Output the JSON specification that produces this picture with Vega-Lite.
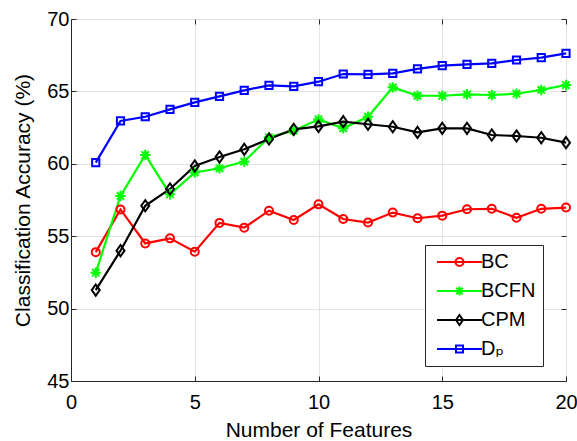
{
  "$schema": "https://vega.github.io/schema/vega-lite/v6.json",
  "width": 495,
  "height": 362,
  "autosize": "none",
  "padding": {"left": 71, "top": 19, "right": 11, "bottom": 60},
  "background": "white",
  "config": {
    "view": {"stroke": "#262626", "strokeWidth": 1},
    "font": "Liberation Sans"
  },
  "data": {
    "values": [
      {"x": 1, "v": 53.9, "s": "BC"}, {"x": 2, "v": 56.85, "s": "BC"}, {"x": 3, "v": 54.5, "s": "BC"}, {"x": 4, "v": 54.85, "s": "BC"}, {"x": 5, "v": 53.93, "s": "BC"},
      {"x": 6, "v": 55.92, "s": "BC"}, {"x": 7, "v": 55.59, "s": "BC"}, {"x": 8, "v": 56.76, "s": "BC"}, {"x": 9, "v": 56.12, "s": "BC"}, {"x": 10, "v": 57.2, "s": "BC"},
      {"x": 11, "v": 56.19, "s": "BC"}, {"x": 12, "v": 55.94, "s": "BC"}, {"x": 13, "v": 56.63, "s": "BC"}, {"x": 14, "v": 56.24, "s": "BC"}, {"x": 15, "v": 56.42, "s": "BC"},
      {"x": 16, "v": 56.86, "s": "BC"}, {"x": 17, "v": 56.89, "s": "BC"}, {"x": 18, "v": 56.27, "s": "BC"}, {"x": 19, "v": 56.89, "s": "BC"}, {"x": 20, "v": 56.98, "s": "BC"},

      {"x": 1, "v": 52.48, "s": "BCFN"}, {"x": 2, "v": 57.78, "s": "BCFN"}, {"x": 3, "v": 60.61, "s": "BCFN"}, {"x": 4, "v": 57.9, "s": "BCFN"}, {"x": 5, "v": 59.4, "s": "BCFN"},
      {"x": 6, "v": 59.69, "s": "BCFN"}, {"x": 7, "v": 60.15, "s": "BCFN"}, {"x": 8, "v": 61.83, "s": "BCFN"}, {"x": 9, "v": 62.29, "s": "BCFN"}, {"x": 10, "v": 63.07, "s": "BCFN"},
      {"x": 11, "v": 62.45, "s": "BCFN"}, {"x": 12, "v": 63.25, "s": "BCFN"}, {"x": 13, "v": 65.28, "s": "BCFN"}, {"x": 14, "v": 64.7, "s": "BCFN"}, {"x": 15, "v": 64.7, "s": "BCFN"},
      {"x": 16, "v": 64.8, "s": "BCFN"}, {"x": 17, "v": 64.75, "s": "BCFN"}, {"x": 18, "v": 64.84, "s": "BCFN"}, {"x": 19, "v": 65.1, "s": "BCFN"}, {"x": 20, "v": 65.44, "s": "BCFN"},

      {"x": 1, "v": 51.28, "s": "CPM"}, {"x": 2, "v": 54.0, "s": "CPM"}, {"x": 3, "v": 57.1, "s": "CPM"}, {"x": 4, "v": 58.26, "s": "CPM"}, {"x": 5, "v": 59.85, "s": "CPM"},
      {"x": 6, "v": 60.47, "s": "CPM"}, {"x": 7, "v": 61.0, "s": "CPM"}, {"x": 8, "v": 61.71, "s": "CPM"}, {"x": 9, "v": 62.38, "s": "CPM"}, {"x": 10, "v": 62.58, "s": "CPM"},
      {"x": 11, "v": 62.91, "s": "CPM"}, {"x": 12, "v": 62.73, "s": "CPM"}, {"x": 13, "v": 62.56, "s": "CPM"}, {"x": 14, "v": 62.17, "s": "CPM"}, {"x": 15, "v": 62.45, "s": "CPM"},
      {"x": 16, "v": 62.45, "s": "CPM"}, {"x": 17, "v": 61.99, "s": "CPM"}, {"x": 18, "v": 61.92, "s": "CPM"}, {"x": 19, "v": 61.8, "s": "CPM"}, {"x": 20, "v": 61.46, "s": "CPM"},

      {"x": 1, "v": 60.08, "s": "Dₚ"}, {"x": 2, "v": 62.96, "s": "Dₚ"}, {"x": 3, "v": 63.25, "s": "Dₚ"}, {"x": 4, "v": 63.76, "s": "Dₚ"}, {"x": 5, "v": 64.24, "s": "Dₚ"},
      {"x": 6, "v": 64.66, "s": "Dₚ"}, {"x": 7, "v": 65.07, "s": "Dₚ"}, {"x": 8, "v": 65.42, "s": "Dₚ"}, {"x": 9, "v": 65.35, "s": "Dₚ"}, {"x": 10, "v": 65.67, "s": "Dₚ"},
      {"x": 11, "v": 66.2, "s": "Dₚ"}, {"x": 12, "v": 66.17, "s": "Dₚ"}, {"x": 13, "v": 66.25, "s": "Dₚ"}, {"x": 14, "v": 66.55, "s": "Dₚ"}, {"x": 15, "v": 66.78, "s": "Dₚ"},
      {"x": 16, "v": 66.87, "s": "Dₚ"}, {"x": 17, "v": 66.94, "s": "Dₚ"}, {"x": 18, "v": 67.17, "s": "Dₚ"}, {"x": 19, "v": 67.33, "s": "Dₚ"}, {"x": 20, "v": 67.63, "s": "Dₚ"}
    ]
  },
  "layer": [
    {
      "mark": {"type": "line", "strokeWidth": 2.2},
      "encoding": {
        "x": {
          "field": "x", "type": "quantitative",
          "scale": {"domain": [0, 20], "nice": false, "zero": false},
          "axis": {
            "orient": "bottom", "values": [0, 5, 10, 15, 20],
            "title": "Number of Features", "titleFont": "Liberation Sans", "titleFontSize": 21, "titleFontWeight": "normal", "titleColor": "black", "titlePadding": 7,
            "labelFont": "Liberation Sans", "labelFontSize": 20, "labelColor": "black", "labelPadding": 16, "labelFlush": false,
            "domainColor": "#262626", "tickColor": "#262626", "tickSize": -5,
            "grid": true, "gridColor": "#e3e3e3", "gridWidth": 1
          }
        },
        "y": {
          "field": "v", "type": "quantitative",
          "scale": {"domain": [45, 70], "nice": false, "zero": false},
          "axis": {
            "orient": "left", "values": [45, 50, 55, 60, 65, 70],
            "title": "Classification Accuracy (%)", "titleFont": "Liberation Sans", "titleFontSize": 21, "titleFontWeight": "normal", "titleColor": "black", "titlePadding": 13,
            "labelFont": "Liberation Sans", "labelFontSize": 20, "labelColor": "black", "labelPadding": 7, "labelFlush": false,
            "domainColor": "#262626", "tickColor": "#262626", "tickSize": -5,
            "grid": true, "gridColor": "#e3e3e3", "gridWidth": 1
          }
        },
        "color": {
          "field": "s", "type": "nominal",
          "scale": {"domain": ["BC", "BCFN", "CPM", "Dₚ"], "range": ["#ff0000", "#00ff00", "#000000", "#0000ff"]},
          "legend": null
        }
      }
    },
    {
      "mark": {"type": "point", "filled": false, "strokeWidth": 2, "opacity": 1, "size": 64},
      "encoding": {
        "x": {
          "field": "x", "type": "quantitative",
          "axis": {"orient": "top", "values": [0, 5, 10, 15, 20], "labels": false, "title": null, "grid": false, "domain": false, "tickColor": "#262626", "tickSize": -5}
        },
        "y": {
          "field": "v", "type": "quantitative",
          "axis": {"orient": "right", "values": [45, 50, 55, 60, 65, 70], "labels": false, "title": null, "grid": false, "domain": false, "tickColor": "#262626", "tickSize": -5}
        },
        "color": {
          "field": "s", "type": "nominal",
          "scale": {"domain": ["BC", "BCFN", "CPM", "Dₚ"], "range": ["#ff0000", "#00ff00", "#000000", "#0000ff"]},
          "legend": null
        },
        "shape": {
          "field": "s", "type": "nominal",
          "scale": {"domain": ["BC", "BCFN", "CPM", "Dₚ"], "range": [
            "M1,0A1,1 0 1,1 -1,0A1,1 0 1,1 1,0Z",
            "M-1.3,0L1.3,0M0,-1.3L0,1.3M-0.92,-0.92L0.92,0.92M-0.92,0.92L0.92,-0.92",
            "M0,-1.4L1,0L0,1.4L-1,0Z",
            "M-0.9,-0.9L0.9,-0.9L0.9,0.9L-0.9,0.9Z"
          ]},
          "legend": null
        }
      }
    },
    {
      "transform": [{"filter": "datum.x > 100"}],
      "mark": {"type": "point", "filled": false, "strokeWidth": 2, "opacity": 1, "size": 100},
      "encoding": {
        "x": {"field": "x", "type": "quantitative", "axis": null},
        "y": {"field": "v", "type": "quantitative", "axis": null},
        "color": {
          "field": "s", "type": "nominal",
          "scale": {"domain": ["BC", "BCFN", "CPM", "Dₚ"], "range": ["#ff0000", "#00ff00", "#000000", "#0000ff"]},
          "legend": {
            "orient": "none", "legendX": 354, "legendY": 226,
            "title": null, "direction": "vertical",
            "padding": 7, "strokeColor": "#262626", "fillColor": "white",
            "labelFont": "Liberation Sans, DejaVu Sans", "labelFontSize": 20, "labelColor": "black", "labelOffset": 29,
            "rowPadding": 9, "symbolSize": 100, "symbolStrokeWidth": 2
          }
        },
        "shape": {
          "field": "s", "type": "nominal",
          "scale": {"domain": ["BC", "BCFN", "CPM", "Dₚ"], "range": [
            "M-1,0L8,0M4.3,0A0.8,0.8 0 1,1 2.7,0A0.8,0.8 0 1,1 4.3,0",
            "M-1,0L8,0M3.5,-0.9L3.5,0.9M2.85,-0.65L4.15,0.65M2.85,0.65L4.15,-0.65",
            "M-1,0L8,0M3.5,-1L4.2,0L3.5,1L2.8,0Z",
            "M-1,0L8,0M2.8,-0.7L4.2,-0.7L4.2,0.7L2.8,0.7Z"
          ]},
          "legend": {
            "orient": "none", "legendX": 354, "legendY": 226,
            "title": null, "direction": "vertical",
            "padding": 7, "strokeColor": "#262626", "fillColor": "white",
            "labelFont": "Liberation Sans, DejaVu Sans", "labelFontSize": 20, "labelColor": "black", "labelOffset": 29,
            "rowPadding": 9, "symbolSize": 100, "symbolStrokeWidth": 2
          }
        }
      }
    }
  ],
  "resolve": {
    "axis": {"x": "independent", "y": "independent"},
    "scale": {"shape": "independent", "color": "independent"}
  }
}
